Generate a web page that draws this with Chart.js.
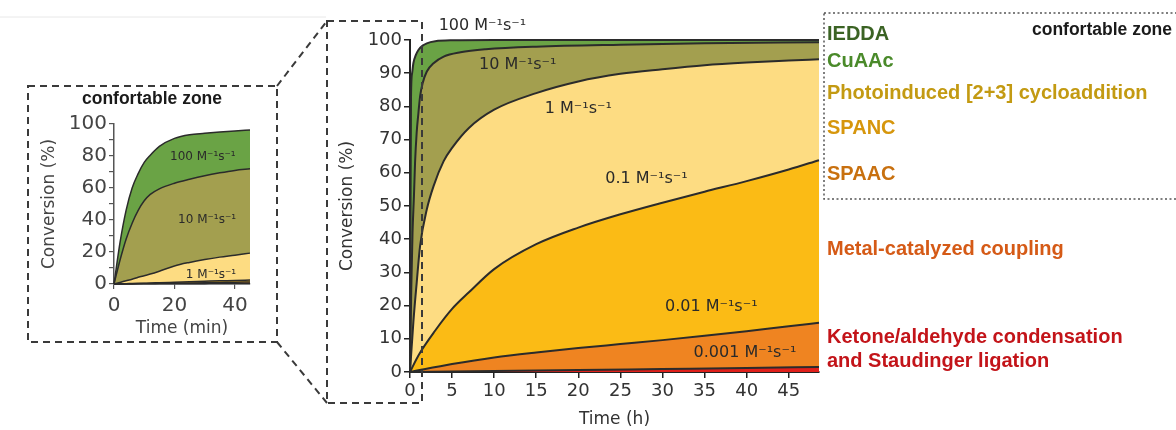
<!DOCTYPE html>
<html>
<head>
<meta charset="utf-8">
<script src="https://cdn.jsdelivr.net/npm/chart.js@4/dist/chart.umd.min.js"></script>
<style>
  body { margin: 0; background: #fff; }
  #wrap { position: relative; width: 1176px; height: 430px; overflow: hidden; }
  canvas { position: absolute; }
  #overlay { position: absolute; left: 0; top: 0; pointer-events: none; }
</style>
</head>
<body>
<div id="wrap">
  <canvas id="insetChart" width="226" height="242" style="left:28px;top:100px"></canvas>
  <canvas id="mainChart" width="492" height="430" style="left:330px;top:0px"></canvas>
  <svg id="overlay" width="1176" height="430">
    <line x1="0" y1="17" x2="326" y2="17" stroke="#e8e8e8" stroke-width="1"/>
    <g fill="none" stroke="#3a3a3a" stroke-width="2" stroke-dasharray="7 5">
      <rect x="28" y="86" width="249" height="256"/>
      <line x1="277" y1="86" x2="327" y2="21"/>
      <line x1="277" y1="342" x2="327" y2="403"/>
      <rect x="327" y="21" width="95" height="382"/>
    </g>
    <rect x="824" y="13" width="380" height="186" fill="none" stroke="#555" stroke-width="1.5" stroke-dasharray="2 2.5"/>
    <g font-family="'Liberation Sans', Arial, sans-serif" font-weight="bold" font-size="20">
      <text x="827" y="40" fill="#3b6324">IEDDA</text>
      <text x="827" y="67" fill="#4a8a2a">CuAAc</text>
      <text x="827" y="98.5" fill="#c39a12">Photoinduced [2+3] cycloaddition</text>
      <text x="827" y="134" fill="#d6960c">SPANC</text>
      <text x="827" y="180" fill="#c8700f">SPAAC</text>
      <text x="827" y="254.5" fill="#d55a16">Metal-catalyzed coupling</text>
      <text x="827" y="342.5" fill="#c31419">Ketone/aldehyde condensation</text>
      <text x="827" y="367" fill="#c31419">and Staudinger ligation</text>
    </g>
    <g font-family="'Liberation Sans', Arial, sans-serif" font-weight="bold" font-size="17.5" fill="#1a1a1a">
      <text x="1172" y="35" text-anchor="end">confortable zone</text>
      <text x="152" y="104" text-anchor="middle">confortable zone</text>
    </g>
  </svg>
</div>
<script>
// main chart: conversion vs time (h)
var mainT1 = [0, 0.05, 0.12, 0.25, 0.4, 0.7, 1, 1.5, 2, 3, 5, 10, 48.6];
var mainV1 = [0, 40, 83, 90, 93, 95.5, 97, 98.3, 99, 99.6, 99.9, 100, 100];
var mainT2 = [0, 0.15, 0.3, 0.47, 0.6, 0.79, 1, 1.2, 1.5, 2, 2.8, 4, 6, 9, 15, 25, 35, 48.6];
var mainV2 = [0, 25, 42, 53, 63, 72, 78, 83, 87, 90.5, 93, 95, 96.3, 97.2, 98, 98.6, 99, 99.3];
var mainT3 = [0, 0.4, 0.8, 1.2, 2, 2.8, 4, 5, 7, 10, 15, 20, 25, 30, 35, 40, 45, 48.6];
var mainV3 = [0, 15, 27, 38, 49, 56, 63.5, 67.5, 73.5, 79, 84, 87.5, 89.8, 91.2, 92.4, 93.2, 93.8, 94.2];
var mainT4 = [0, 1, 3, 5, 7, 10, 15, 20, 25, 30, 35, 40, 45, 48.6];
var mainV4 = [0, 5, 12.5, 19, 24, 31, 38.5, 43.5, 47.5, 51, 54.3, 57.5, 61, 63.8];
var mainT5 = [0, 5, 10, 15, 20, 25, 30, 35, 40, 45, 48.6];
var mainV5 = [0, 2.4, 4.4, 5.9, 7.2, 8.4, 9.6, 10.9, 12.3, 13.8, 14.8];
var mainT6 = [0, 10, 20, 30, 40, 48.6];
var mainV6 = [0, 0.3, 0.6, 0.9, 1.2, 1.5];
var mainXTicks = [0, 5, 10, 15, 20, 25, 30, 35, 40, 45];
var mainYTicks = [0, 10, 20, 30, 40, 50, 60, 70, 80, 90, 100];

// inset: first 45 min
var insetT = [0, 2, 4, 6, 8, 10, 12, 15, 20, 25, 30, 35, 40, 45];
var insetV1 = [0, 26, 46, 60, 69, 76, 80.5, 86, 91, 93.3, 94.2, 95, 95.7, 96.3];
var insetV2 = [0, 15, 28, 38, 46, 52, 56, 59.5, 63, 65.5, 67.7, 69.5, 71, 72];
var insetV3 = [0, 1, 2, 3, 4.2, 5.2, 6.2, 8, 11.3, 13.5, 15.3, 16.8, 18, 19.3];
var insetV4 = [0, 0.1, 0.2, 0.3, 0.4, 0.5, 0.6, 0.8, 1.1, 1.4, 1.7, 2, 2.2, 2.5];
var insetV5 = [0, 0.05, 0.1, 0.15, 0.2, 0.25, 0.3, 0.4, 0.55, 0.7, 0.85, 1, 1.1, 1.3];
var insetV6 = [0, 0.02, 0.04, 0.06, 0.08, 0.1, 0.12, 0.14, 0.17, 0.2, 0.23, 0.26, 0.28, 0.3];
var insetXTicks = [0, 20, 40];
var insetYTicks = [0, 10, 20, 30, 40, 50, 60, 70, 80, 90, 100];

var rateText = ['100 M\u207B\u00B9s\u207B\u00B9', '10 M\u207B\u00B9s\u207B\u00B9', '1 M\u207B\u00B9s\u207B\u00B9',
    '0.1 M\u207B\u00B9s\u207B\u00B9', '0.01 M\u207B\u00B9s\u207B\u00B9', '0.001 M\u207B\u00B9s\u207B\u00B9'];
var mainLabelT = [8.6, 12.8, 20, 28.1, 35.8, 39.8];
var mainLabelV = [104.4, 92.4, 79.4, 58.3, 19.5, 5.9];
var insetLabelT = [29.4, 30.8, 32.1];
var insetLabelV = [79.2, 40, 6];

var fills = ['#e0201b', '#ef8421', '#fbbb15', '#fddc82', '#a39f4f', '#6aa345'];

function pts(t, v) {
    var out = [];
    for (var i = 0; i < t.length; i++) out.push({ x: t[i], y: v[i] });
    return out;
}

function makeSet(data, color, lw) {
    return {
        data: data,
        backgroundColor: color,
        borderColor: '#2b2b2b',
        borderWidth: lw,
        pointRadius: 0,
        fill: 'origin',
        cubicInterpolationMode: 'monotone',
        clip: 3
    };
}

function labelPlugin(texts, tx, ty, font) {
    return {
        id: 'rateLabels',
        afterDatasetsDraw: function (chart) {
            var ctx = chart.ctx;
            var xs = chart.scales.x, ys = chart.scales.y;
            ctx.save();
            ctx.font = font;
            ctx.fillStyle = '#2a2a2a';
            ctx.textAlign = 'center';
            ctx.textBaseline = 'middle';
            for (var i = 0; i < tx.length; i++) {
                ctx.fillText(texts[i], xs.getPixelForValue(tx[i]), ys.getPixelForValue(ty[i]));
            }
            ctx.restore();
        }
    };
}

function fixedTicks(list) {
    return function (scale) {
        scale.ticks = list.map(function (v) { return { value: v }; });
    };
}

var fam = "'DejaVu Sans', sans-serif";

// lowest curve first so it is painted last (on top)
new Chart(document.getElementById('mainChart'), {
    type: 'line',
    data: {
        datasets: [
            makeSet(pts(mainT6, mainV6), fills[0], 2),
            makeSet(pts(mainT5, mainV5), fills[1], 2),
            makeSet(pts(mainT4, mainV4), fills[2], 2),
            makeSet(pts(mainT3, mainV3), fills[3], 2),
            makeSet(pts(mainT2, mainV2), fills[4], 2),
            makeSet(pts(mainT1, mainV1), fills[5], 2)
        ]
    },
    options: {
        responsive: false,
        animation: false,
        devicePixelRatio: 1,
        layout: { padding: { top: 40, right: 3, left: 0, bottom: 0 } },
        plugins: {
            legend: { display: false },
            tooltip: { enabled: false },
            filler: { drawTime: 'beforeDatasetsDraw' }
        },
        scales: {
            x: {
                type: 'linear', min: 0, max: 48.6,
                border: { color: '#222', width: 2 },
                grid: { drawOnChartArea: false, drawTicks: true, tickLength: 6, color: '#222', lineWidth: 1.5 },
                ticks: { padding: 3, maxRotation: 0, autoSkip: false, color: '#333', font: { family: fam, size: 18 } },
                afterBuildTicks: fixedTicks(mainXTicks),
                title: { display: true, text: 'Time (h)', color: '#333', font: { family: fam, size: 17 }, padding: { top: 0, bottom: 0 } },
                afterFit: function (s) { s.height = 58; }
            },
            y: {
                min: 0, max: 100,
                border: { color: '#222', width: 2 },
                grid: { drawOnChartArea: false, drawTicks: true, tickLength: 6, color: '#222', lineWidth: 1.5 },
                ticks: { padding: 2, autoSkip: false, color: '#333', font: { family: fam, size: 18 } },
                afterBuildTicks: fixedTicks(mainYTicks),
                title: { display: true, text: 'Conversion (%)', color: '#333', font: { family: fam, size: 17 }, padding: { top: 7, bottom: 0 } },
                afterFit: function (s) { s.width = 80; }
            }
        }
    },
    plugins: [labelPlugin(rateText, mainLabelT, mainLabelV, '16px ' + fam)]
});

new Chart(document.getElementById('insetChart'), {
    type: 'line',
    data: {
        datasets: [
            makeSet(pts(insetT, insetV6), fills[0], 1.5),
            makeSet(pts(insetT, insetV5), fills[1], 1.5),
            makeSet(pts(insetT, insetV4), fills[2], 1.5),
            makeSet(pts(insetT, insetV3), fills[3], 1.5),
            makeSet(pts(insetT, insetV2), fills[4], 1.5),
            makeSet(pts(insetT, insetV1), fills[5], 1.5)
        ]
    },
    options: {
        responsive: false,
        animation: false,
        devicePixelRatio: 1,
        layout: { padding: { top: 24, right: 4, left: 0, bottom: 0 } },
        plugins: {
            legend: { display: false },
            tooltip: { enabled: false },
            filler: { drawTime: 'beforeDatasetsDraw' }
        },
        scales: {
            x: {
                type: 'linear', min: 0, max: 45,
                border: { color: '#555', width: 1.5 },
                grid: { drawOnChartArea: false, drawTicks: true, tickLength: 5, color: '#555', lineWidth: 1.2 },
                ticks: { padding: 5, maxRotation: 0, autoSkip: false, color: '#444', font: { family: fam, size: 20 } },
                afterBuildTicks: fixedTicks(insetXTicks),
                title: { display: true, text: 'Time (min)', color: '#444', font: { family: fam, size: 17 }, padding: { top: 0, bottom: 3 } },
                afterFit: function (s) { s.height = 58; }
            },
            y: {
                min: 0, max: 100,
                border: { color: '#555', width: 1.5 },
                grid: { drawOnChartArea: false, drawTicks: true, tickLength: 5, color: '#555', lineWidth: 1.2 },
                ticks: {
                    padding: 2, autoSkip: false, color: '#444', font: { family: fam, size: 20 },
                    callback: function (v) { return v % 20 === 0 ? v : ''; }
                },
                afterBuildTicks: fixedTicks(insetYTicks),
                title: { display: true, text: 'Conversion (%)', color: '#444', font: { family: fam, size: 17 }, padding: { top: 11, bottom: 0 } },
                afterFit: function (s) { s.width = 86; }
            }
        }
    },
    plugins: [labelPlugin(rateText, insetLabelT, insetLabelV, '12px ' + fam)]
});
</script>
</body>
</html>
